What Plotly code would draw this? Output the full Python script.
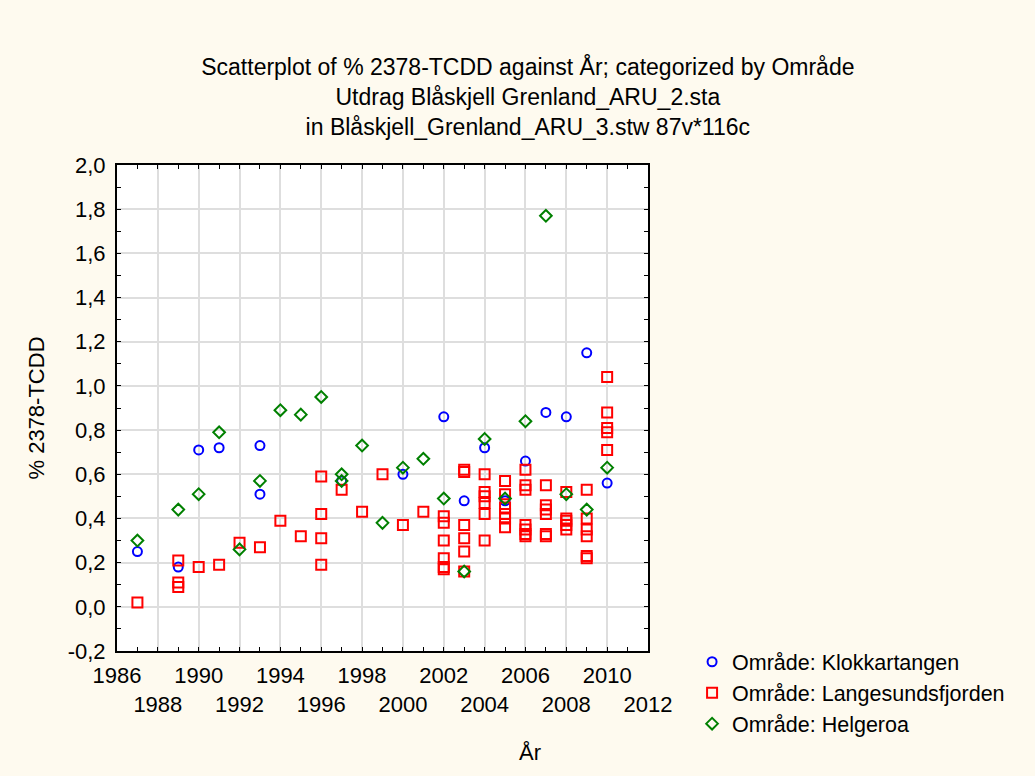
import plotly.graph_objects as go

# Område: Klokkartangen (blue circles)
klokk_year = [1987, 1989, 1990, 1991, 1993, 1993, 1997, 2000, 2002, 2003,
              2004, 2005, 2006, 2007, 2008, 2009, 2010]
klokk_pct = [0.25, 0.18, 0.71, 0.72, 0.73, 0.51, 0.57, 0.60, 0.86, 0.48,
             0.72, 0.48, 0.66, 0.88, 0.86, 1.15, 0.56]

# Område: Langesundsfjorden (red squares)
lang_year = [1987,
             1989, 1989, 1989,
             1990, 1991, 1992, 1993, 1994, 1995,
             1996, 1996, 1996, 1996,
             1997, 1998, 1999, 2000, 2001,
             2002, 2002, 2002, 2002, 2002, 2002,
             2003, 2003, 2003, 2003, 2003, 2003,
             2004, 2004, 2004, 2004, 2004, 2004,
             2005, 2005, 2005, 2005, 2005, 2005,
             2006, 2006, 2006, 2006, 2006, 2006, 2006,
             2007, 2007, 2007, 2007, 2007, 2007,
             2008, 2008, 2008, 2008, 2008,
             2009, 2009, 2009, 2009, 2009, 2009,
             2010, 2010, 2010, 2010, 2010]
lang_pct = [0.02,
            0.21, 0.11, 0.09,
            0.18, 0.19, 0.29, 0.27, 0.39, 0.32,
            0.59, 0.42, 0.31, 0.19,
            0.53, 0.43, 0.60, 0.37, 0.43,
            0.41, 0.38, 0.30, 0.22, 0.18, 0.17,
            0.62, 0.61, 0.37, 0.31, 0.25, 0.16,
            0.60, 0.52, 0.50, 0.47, 0.42, 0.30,
            0.57, 0.51, 0.45, 0.42, 0.40, 0.36,
            0.62, 0.55, 0.53, 0.37, 0.35, 0.33, 0.32,
            0.55, 0.46, 0.44, 0.42, 0.33, 0.32,
            0.52, 0.40, 0.39, 0.37, 0.35,
            0.53, 0.40, 0.35, 0.32, 0.23, 0.22,
            1.04, 0.88, 0.81, 0.79, 0.71]

# Område: Helgeroa (green diamonds)
helg_year = [1987, 1989, 1990, 1991, 1992, 1993, 1994, 1995, 1996, 1997,
             1997, 1998, 1999, 2000, 2001, 2002, 2003, 2004, 2005, 2006,
             2007, 2008, 2009, 2010]
helg_pct = [0.30, 0.44, 0.51, 0.79, 0.26, 0.57, 0.89, 0.87, 0.95, 0.60,
            0.57, 0.73, 0.38, 0.63, 0.67, 0.49, 0.16, 0.76, 0.49, 0.84,
            1.77, 0.51, 0.44, 0.63]

x_tick_vals = [1986, 1988, 1990, 1992, 1994, 1996, 1998, 2000, 2002, 2004,
               2006, 2008, 2010, 2012]
x_tick_text = ["1986", "<br>1988", "1990", "<br>1992", "1994", "<br>1996",
               "1998", "<br>2000", "2002", "<br>2004", "2006", "<br>2008",
               "2010", "<br>2012"]
y_tick_vals = [-0.2, 0.0, 0.2, 0.4, 0.6, 0.8, 1.0, 1.2, 1.4, 1.6, 1.8, 2.0]
y_tick_text = ["-0,2", "0,0", "0,2", "0,4", "0,6", "0,8", "1,0", "1,2",
               "1,4", "1,6", "1,8", "2,0"]

FONT = "Arial, 'Liberation Sans', sans-serif"
GRID = "#DEDEDE"

fig = go.Figure()
fig.add_trace(go.Scatter(
    x=klokk_year, y=klokk_pct, mode="markers", name="Område: Klokkartangen",
    marker=dict(symbol="circle-open", size=9, color="#0000FF",
                line=dict(width=2, color="#0000FF")),
))
fig.add_trace(go.Scatter(
    x=lang_year, y=lang_pct, mode="markers", name="Område: Langesundsfjorden",
    marker=dict(symbol="square-open", size=10, color="#FF0000",
                line=dict(width=2, color="#FF0000")),
))
fig.add_trace(go.Scatter(
    x=helg_year, y=helg_pct, mode="markers", name="Område: Helgeroa",
    marker=dict(symbol="diamond-open", size=9, color="#008000",
                line=dict(width=2, color="#008000")),
))

fig.update_layout(
    width=1035, height=776,
    margin=dict(l=117, r=387, t=165, b=125, autoexpand=False),
    paper_bgcolor="#FEFAEF", plot_bgcolor="white",
    font=dict(family=FONT, size=22, color="black"),
    title=dict(
        text=("Scatterplot of % 2378-TCDD against År; categorized by Område"
              "<br>Utdrag Blåskjell Grenland_ARU_2.sta"
              "<br>in Blåskjell_Grenland_ARU_3.stw 87v*116c"),
        x=0.51, xanchor="center", xref="container",
        y=1 - 75 / 776, yanchor="top",
        font=dict(family=FONT, size=23, color="black"),
    ),
    showlegend=True,
    legend=dict(
        x=1.083, xanchor="left", y=0.02, yanchor="top",
        bgcolor="rgba(0,0,0,0)", font=dict(family=FONT, size=21.5),
        tracegroupgap=0,
    ),
)
fig.update_xaxes(
    range=[1986, 2012], tickmode="array", tickvals=x_tick_vals,
    ticktext=x_tick_text, tickangle=0, ticks="inside", ticklen=4,
    tickcolor="black", automargin=False,
    showline=True, linecolor="black", linewidth=2, mirror="ticks",
    showgrid=True, gridcolor=GRID, gridwidth=1.5, zeroline=False,
    ticklabelstandoff=4,
    minor=dict(tickmode="linear", tick0=1986, dtick=1, ticks="inside",
               ticklen=4, tickcolor="black", showgrid=False),
)
fig.update_yaxes(
    range=[-0.2, 2.0], tickmode="array", tickvals=y_tick_vals,
    ticktext=y_tick_text, ticks="inside", ticklen=4, tickcolor="black",
    automargin=False,
    showline=True, linecolor="black", linewidth=2, mirror="ticks",
    showgrid=True, gridcolor=GRID, gridwidth=1.5, zeroline=False,
    ticklabelstandoff=5,
    minor=dict(tickmode="linear", tick0=-0.2, dtick=0.1, ticks="inside",
               ticklen=4, tickcolor="black", showgrid=False),
    title=dict(text="% 2378-TCDD", standoff=17,
               font=dict(family=FONT, size=22)),
)
fig.add_annotation(
    text="År", xref="paper", yref="paper",
    x=(530 - 117) / 531, y=(651 - 752) / 486,
    xanchor="center", yanchor="middle", showarrow=False,
    font=dict(family=FONT, size=22),
)

# the page's default 8px body margin would shift the whole figure
fig.write_html(
    "out.html",
    config={"displayModeBar": False},
    post_script="document.body.style.margin='0px';",
)
